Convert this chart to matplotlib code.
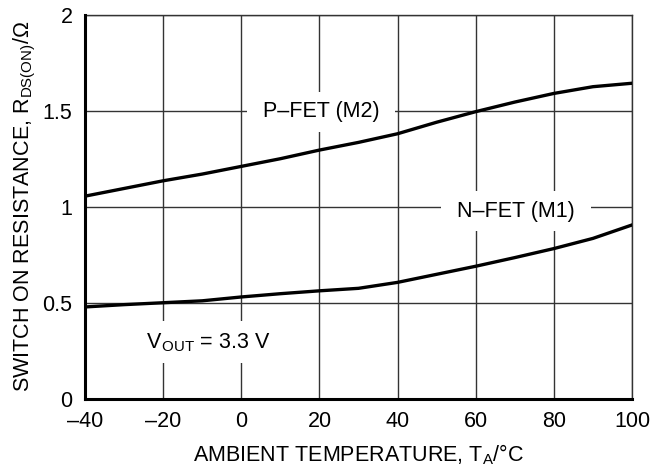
import matplotlib
matplotlib.use('Agg')
import matplotlib.pyplot as plt

plt.rcParams['font.family'] = ['Liberation Sans', 'DejaVu Sans']
plt.rcParams['mathtext.fontset'] = 'custom'
plt.rcParams['mathtext.rm'] = 'Liberation Sans'
plt.rcParams['mathtext.it'] = 'Liberation Sans'

temp = [-40, -30, -20, -10, 0, 10, 20, 30, 40, 50, 60, 70, 80, 90, 100]
pfet = [1.055, 1.095, 1.135, 1.17, 1.21, 1.25, 1.295, 1.335, 1.38, 1.44, 1.495, 1.545, 1.59, 1.625, 1.643]
nfet = [0.478, 0.49, 0.50, 0.51, 0.53, 0.547, 0.562, 0.575, 0.606, 0.648, 0.69, 0.735, 0.782, 0.835, 0.905]

xticks = [-40, -20, 0, 20, 40, 60, 80, 100]
yticks = [0, 0.5, 1, 1.5, 2]
ylabels = ['0', '0.5', '1', '1.5', '2']

fig = plt.figure(figsize=(6.6, 4.68), dpi=100)
ax = fig.add_axes([0.1288, 0.148, 0.8288, 0.8206])

ax.plot(temp, pfet, color='black', lw=2.4, zorder=3)
ax.plot(temp, nfet, color='black', lw=2.4, zorder=3)

ax.set_xlim(-40, 100)
ax.set_ylim(0, 2)
ax.set_xticks(xticks)
ax.set_xticklabels(['\u2013' + str(-t) if t < 0 else str(t) for t in xticks])
ax.set_yticks(yticks)
ax.set_yticklabels(ylabels)
ax.tick_params(length=0, labelsize=15.5)
ax.tick_params(axis='x', pad=9)
ax.tick_params(axis='y', pad=9)
ax.grid(True, color='#333333', lw=1)

for s in ['top', 'right']:
    ax.spines[s].set_linewidth(1)
    ax.spines[s].set_color('#333333')
for s in ['left', 'bottom']:
    ax.spines[s].set_linewidth(2.2)
    ax.spines[s].set_zorder(4)

box = dict(facecolor='white', edgecolor='none', pad=7)
ax.text(20.5, 1.466, ' P\u2013FET (M2) ', ha='center', va='baseline', fontsize=15.5, bbox=box, zorder=2)
ax.text(70.3, 0.948, ' N\u2013FET (M1) ', ha='center', va='baseline', fontsize=15.5, bbox=box, zorder=2)
ax.text(-9, 0.264, r' V$_\mathregular{OUT}$ = 3.3 V ', ha='center', va='baseline', fontsize=15.5, bbox=box, zorder=2)

ax.set_xlabel(r'AMBIENT TEMPERATURE, T$_\mathregular{A}$/$\degree$C', fontsize=15.5, labelpad=7.5)
ax.set_ylabel(r'SWITCH ON RESISTANCE, R$_\mathregular{DS(ON)}$/$\Omega$', fontsize=15.5, labelpad=3.5)

fig.savefig('out.png', dpi=100)
